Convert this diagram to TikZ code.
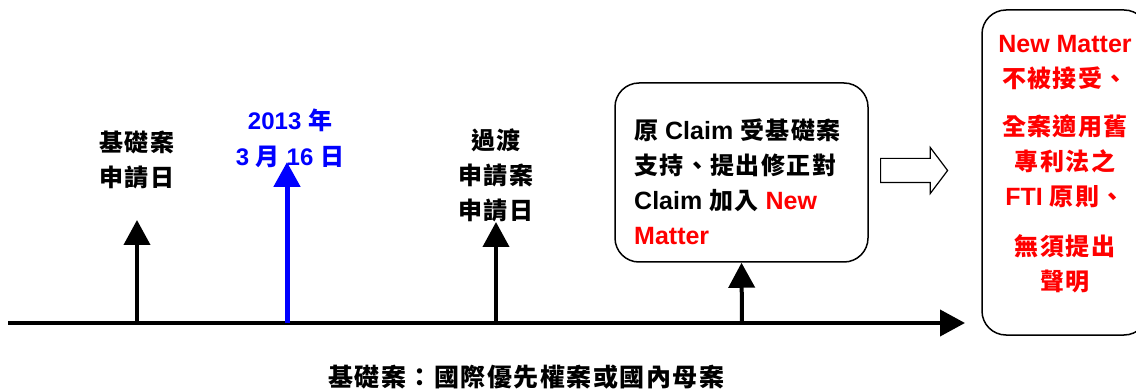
\documentclass[tikz,border=0pt]{standalone}
\usepackage{fontspec}
\setmainfont{Liberation Sans}
\newfontfamily\cjk{Noto Sans CJK TC}[LetterSpace=6]
\usetikzlibrary{arrows.meta}
\usetikzlibrary{shapes.arrows}
\newcommand\zh[1]{{\cjk\fontsize{24}{35}\selectfont #1}}

\begin{document}
\begin{tikzpicture}[x=1pt, y=-1pt, >={Triangle[length=25pt, width=26pt]}, font=\bfseries\fontsize{25}{35}\selectfont]
\tikzstyle{axis} = [->, line width=4pt]
\tikzstyle{tick} = [->, line width=4pt]
\tikzstyle{lbl} = [align=center, inner sep=0pt]
\tikzstyle{box} = [draw=black, line width=1.5pt, rounded corners=24pt]

\useasboundingbox (0,0) rectangle (1136,390);
\clip (0,0) rectangle (1136,390);

\coordinate (start) at (8,323);
\coordinate (end) at (965,323);
\coordinate (t1) at (137,323);
\coordinate (t1top) at (137,220);
\coordinate (t2) at (287,323);
\coordinate (t2top) at (287,162);
\coordinate (t3) at (496,323);
\coordinate (t3top) at (496,222);
\coordinate (t4) at (742,323);

\node[lbl](lab1) at (137,160) {\zh{基礎案}\\\zh{申請日}};
\node[lbl, text=blue, font=\bfseries\fontsize{24}{36}\selectfont](lab2) at (290,138) {2013 \zh{年}\\3 \zh{月} 16 \zh{日}};
\node[lbl](lab3) at (496,175) {\zh{過渡}\\\zh{申請案}\\\zh{申請日}};

\node[box, minimum width=253pt, minimum height=179pt](box1) at (741.5,172.5) {};
\node[lbl, align=left, anchor=west](box1txt) at (634,182) {\zh{原} Claim \zh{受基礎案}\\\zh{支持、提出修正對}\\Claim \zh{加入} \textcolor{red}{New}\\\textcolor{red}{Matter}};

\node[draw=black, single arrow, line width=1.2pt, inner sep=11.5pt, minimum height=67pt, single arrow head extend=11pt, single arrow tip angle=106, anchor=tail](conv) at (880,170.5) {};

\node[box, minimum width=166pt, minimum height=325pt](box2) at (1065,172.5) {};
\node[lbl, text=red](box2txt) at (1065,164) {New Matter\\\zh{不被接受、}\\[13pt]\zh{全案適用舊}\\\zh{專利法之}\\FTI \zh{原則、}\\[15pt]\zh{無須提出}\\\zh{聲明}};

\node[lbl, font=\bfseries\fontsize{25}{35}\selectfont](note) at (526,377) {{\cjk 基礎案：國際優先權案或國內母案}};

\draw[axis] (start) -- (end);
\draw[tick] (t1) -- (t1top);
\draw[tick, draw=blue, fill=blue, line width=5pt] (t2) -- (t2top);
\draw[tick] (t3) -- (t3top);
\draw[tick] (t4) -- (box1.south);
\end{tikzpicture}
\end{document}
